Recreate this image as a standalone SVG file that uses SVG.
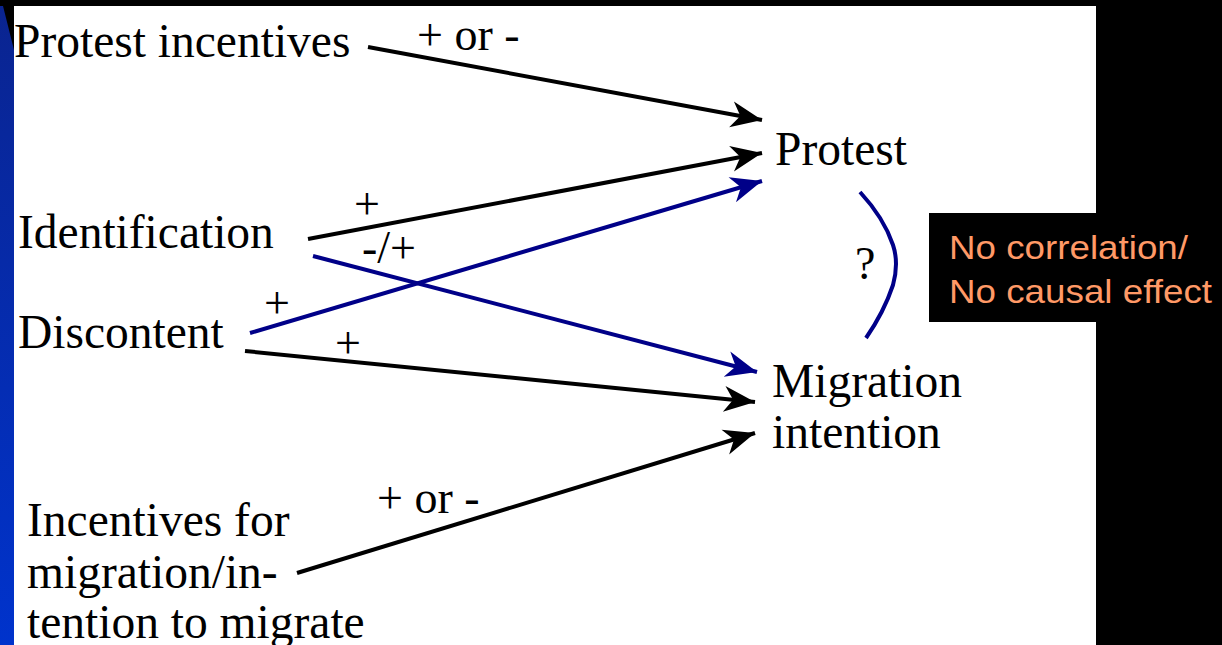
<svg xmlns="http://www.w3.org/2000/svg" width="1222" height="645" viewBox="0 0 1222 645">
<style>
.t{font-family:"Liberation Serif","Times New Roman",serif;fill:#000;}
.n{font-size:47.5px;}
.l{font-size:46px;}
.k{stroke:#000;stroke-width:4;fill:none;}
.b{stroke:#000088;stroke-width:4;fill:none;}
.o{font-family:"Liberation Sans",Arial,sans-serif;font-size:33px;fill:#ff9966;}
</style>
<defs>
<linearGradient id="g" x1="0" y1="0" x2="0" y2="1">
<stop offset="0" stop-color="#0a2490"/>
<stop offset="1" stop-color="#0033cc"/>
</linearGradient>
<marker id="ak" viewBox="-32 -14 34 28" refX="0" refY="0" markerWidth="34" markerHeight="28" markerUnits="userSpaceOnUse" orient="auto">
<path d="M0,0 L-31,-13 L-22,0 L-31,13 Z" fill="#000"/>
</marker>
<marker id="ab" viewBox="-32 -14 34 28" refX="0" refY="0" markerWidth="34" markerHeight="28" markerUnits="userSpaceOnUse" orient="auto">
<path d="M0,0 L-31,-13 L-22,0 L-31,13 Z" fill="#000088"/>
</marker>
</defs>
<rect x="0" y="0" width="1222" height="645" fill="#000"/>
<rect x="14" y="6" width="1082" height="639" fill="#fff"/>
<polygon points="0,6 3,6 14,50 14,645 0,645" fill="url(#g)"/>
<g id="connectors">
<line class="k" x1="368" y1="47" x2="762" y2="120" marker-end="url(#ak)"/>
<line class="k" x1="308" y1="239" x2="762" y2="153" marker-end="url(#ak)"/>
<line class="b" x1="250" y1="333" x2="762" y2="181" marker-end="url(#ab)"/>
<line class="b" x1="313" y1="256" x2="757" y2="372" marker-end="url(#ab)"/>
<line class="k" x1="245" y1="351" x2="755" y2="402" marker-end="url(#ak)"/>
<line class="k" x1="297" y1="573" x2="755" y2="433" marker-end="url(#ak)"/>
<path class="b" d="M860,192 Q884,218 893,245 Q899,263 893,285 Q884,312 866,338" stroke-width="3"/>
<text class="t l" x="417" y="50">+ or -</text>
<text class="t l" x="354" y="219">+</text>
<text class="t l" x="362" y="263">-/+</text>
<text class="t l" x="264" y="318">+</text>
<text class="t l" x="335" y="358">+</text>
<text class="t l" x="377" y="513">+ or -</text>
<text class="t l" x="855" y="279">?</text>
</g>
<g id="protest-incentives"><text class="t n" x="14" y="57">Protest incentives</text></g>
<g id="protest"><text class="t n" x="775" y="165">Protest</text></g>
<g id="identification"><text class="t n" x="18" y="248">Identification</text></g>
<g id="discontent"><text class="t n" x="18" y="348">Discontent</text></g>
<g id="migration"><text class="t n" x="772" y="397">Migration</text><text class="t n" x="772" y="448">intention</text></g>
<g id="incentives-migration"><text class="t n" x="27" y="536">Incentives for</text><text class="t n" x="27" y="588">migration/in-</text><text class="t n" x="27" y="638">tention to migrate</text></g>
<g id="note">
<rect x="929" y="213" width="167" height="109" fill="#000"/>
<text class="o" x="949" y="259" textLength="239" lengthAdjust="spacingAndGlyphs">No correlation/</text>
<text class="o" x="949" y="303" textLength="263" lengthAdjust="spacingAndGlyphs">No causal effect</text>
</g>
</svg>
